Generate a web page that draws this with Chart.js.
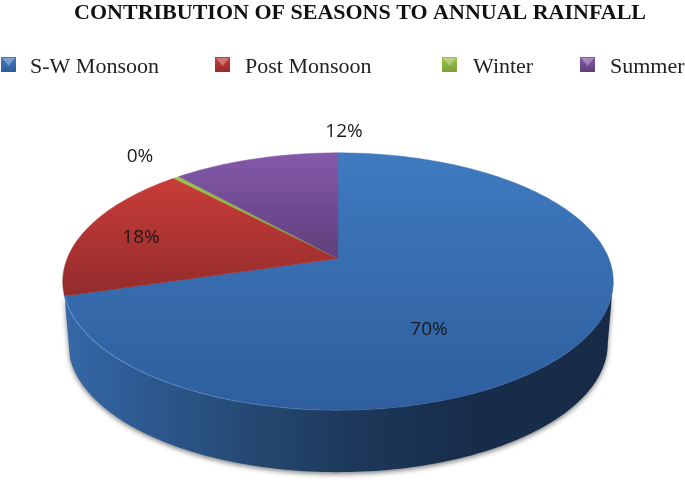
<!DOCTYPE html>
<html><head><meta charset="utf-8">
<style>html,body{margin:0;padding:0;background:#fff}canvas{display:block}</style>
<script src="https://cdn.jsdelivr.net/npm/chart.js@4"></script>
</head><body><canvas id="c" width="685" height="491"></canvas>
<script>
const categories = ['S-W Monsoon', 'Post Monsoon', 'Winter', 'Summer'];
const shares = [70.4, 17.6, 0.4, 11.6];
const topColors = ['#3f7abf', '#c93d39', '#9bc548', '#8459aa'];
const bottomColors = ['#2e5e9d', '#932b2b', '#7d9f3a', '#5f3f7c'];
const titleText = 'CONTRIBUTION OF SEASONS TO ANNUAL RAINFALL';

// perspective of the tilted disc, relative to the library's radius
const KX = 1.23, KY = 0.5657, P = -0.178;
const DEPTH = 62, BOTTOM_SCALE = 0.98;
const project = (el, a, r = 1) => {
  const u = Math.cos(a) * r, v = Math.sin(a) * r, w = 1 + P * v;
  return [el.x + KX * el.outerRadius * u / w, el.y + KY * el.outerRadius * v / w];
};
const rimSteps = (a, b) => { const n = Math.max(2, Math.ceil((b - a) / 0.02)); return Array.from({length: n + 1}, (_, i) => a + (b - a) * i / n); };

// each slice draws itself through the projection
Chart.ArcElement.prototype.draw = function (ctx) {
  const i = this.$context ? this.$context.dataIndex : 0;
  const pts = rimSteps(this.startAngle, this.endAngle).map(a => project(this, a));
  const ys = pts.map(p => p[1]).concat(this.y);
  const g = ctx.createLinearGradient(0, Math.min(...ys), 0, Math.max(...ys));
  g.addColorStop(0, topColors[i]); g.addColorStop(1, bottomColors[i]);
  ctx.save();
  ctx.beginPath(); ctx.moveTo(this.x, this.y);
  pts.forEach(p => ctx.lineTo(p[0], p[1]));
  ctx.closePath();
  ctx.fillStyle = g; ctx.fill();
  ctx.strokeStyle = g; ctx.lineWidth = 0.5; ctx.stroke();
  ctx.restore();
};

const wallPlugin = {
  id: 'wall',
  beforeDatasetsDraw(chart) {
    const ctx = chart.ctx, el = chart.getDatasetMeta(0).data[0];
    const from = Math.asin(-P), to = el.endAngle;
    const top = rimSteps(from, to).map(a => project(el, a));
    const bottom = top.map(p => [el.x + (p[0] - el.x) * BOTTOM_SCALE, p[1] + DEPTH]).reverse();
    const g = ctx.createLinearGradient(65, 0, 612, 0);
    g.addColorStop(0, '#3568a6'); g.addColorStop(0.14, '#2d5a92'); g.addColorStop(0.36, '#24476f');
    g.addColorStop(0.5, '#1e3a5e'); g.addColorStop(0.72, '#182d4b'); g.addColorStop(1, '#172b47');
    ctx.save();
    ctx.beginPath();
    top.concat(bottom).forEach((p, i) => i ? ctx.lineTo(p[0], p[1]) : ctx.moveTo(p[0], p[1]));
    ctx.closePath();
    ctx.shadowColor = 'rgba(0,0,0,0.5)'; ctx.shadowBlur = 5; ctx.shadowOffsetY = 2;
    ctx.fillStyle = g; ctx.fill();
    ctx.restore();
  },
  afterDatasetsDraw(chart) {
    const ctx = chart.ctx, el = chart.getDatasetMeta(0).data[0];
    const rim = rimSteps(1.2, el.endAngle).map(a => project(el, a));
    const g = ctx.createLinearGradient(64, 0, 420, 0);
    g.addColorStop(0, 'rgba(110,160,225,0.6)'); g.addColorStop(1, 'rgba(110,160,225,0)');
    ctx.save(); ctx.beginPath();
    rim.forEach((p, i) => i ? ctx.lineTo(p[0], p[1]) : ctx.moveTo(p[0], p[1]));
    ctx.strokeStyle = g; ctx.lineWidth = 1.2; ctx.stroke(); ctx.restore();
  }
};

const labelSpots = [[429, 330], [141, 238], [140, 157], [344, 132]];
const labelPlugin = {
  id: 'percentLabels',
  afterDraw(chart) {
    const ctx = chart.ctx, total = shares.reduce((a, b) => a + b, 0);
    ctx.save();
    ctx.font = '19px "Open Sans"'; ctx.fillStyle = '#1a1a1a';
    ctx.textAlign = 'center'; ctx.textBaseline = 'middle';
    shares.forEach((s, i) => ctx.fillText(Math.round(s / total * 100) + '%', labelSpots[i][0], labelSpots[i][1]));
    ctx.restore();
  }
};

const legendIconX = [1, 215, 442, 580];
const legendTextX = [30, 245, 473, 610];
const legendPlugin = {
  id: 'bevelLegend',
  afterDraw(chart) {
    const ctx = chart.ctx, s = 15, y = 57;
    ctx.save();
    categories.forEach((name, i) => {
      const x = legendIconX[i];
      const g = ctx.createLinearGradient(0, y, 0, y + s);
      g.addColorStop(0, topColors[i]); g.addColorStop(1, bottomColors[i]);
      ctx.fillStyle = g; ctx.fillRect(x, y, s, s);
      ctx.fillStyle = 'rgba(255,255,255,0.3)';
      ctx.beginPath(); ctx.moveTo(x + 1, y + 1); ctx.lineTo(x + s - 1, y + 1); ctx.lineTo(x + s / 2, y + s * 0.6); ctx.closePath(); ctx.fill();
      ctx.fillStyle = '#222'; ctx.font = '22px "Liberation Serif"';
      ctx.textAlign = 'left'; ctx.textBaseline = 'alphabetic';
      ctx.fillText(name, legendTextX[i], 73);
    });
    ctx.restore();
  }
};

new Chart(document.getElementById('c'), {
  type: 'pie',
  data: { labels: categories, datasets: [{ data: shares, backgroundColor: topColors, borderWidth: 0 }] },
  options: {
    responsive: false, animation: false,
    rotation: 0,
    layout: { padding: { left: 30, right: 39, top: 0, bottom: 12.2 } },
    plugins: {
      legend: { display: false }, tooltip: { enabled: false },
      title: { display: true, text: titleText, align: 'end', color: '#111',
        font: { family: '"Liberation Serif"', size: 22, weight: 'bold' }, padding: { top: 0, bottom: 12 } }
    }
  },
  plugins: [wallPlugin, labelPlugin, legendPlugin]
});
</script></body></html>
